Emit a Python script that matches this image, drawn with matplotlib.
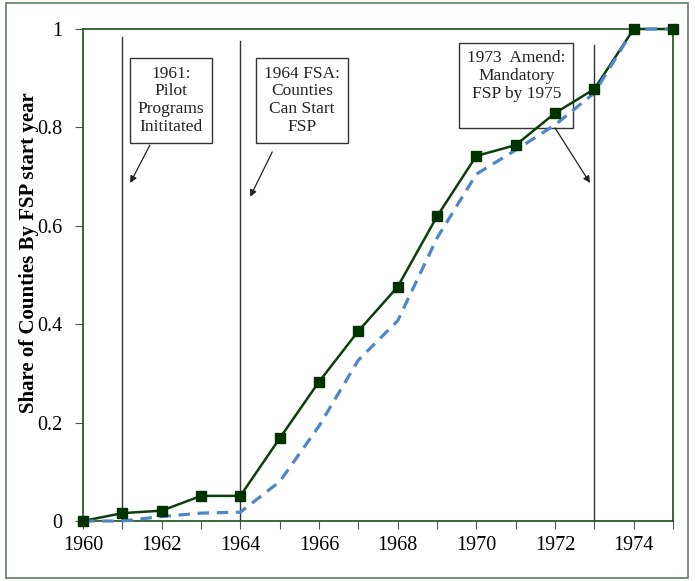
import matplotlib
matplotlib.use("Agg")
import matplotlib.pyplot as plt
from matplotlib.patches import Rectangle

plt.rcParams['font.family'] = ['Liberation Serif', 'DejaVu Serif']

years = list(range(1960, 1976))
share_start = [0.0, 0.016, 0.021, 0.051, 0.051, 0.168, 0.283, 0.386, 0.476, 0.619,
               0.742, 0.764, 0.829, 0.878, 1.0, 1.0]
share_weighted = [0.0, 0.0, 0.009, 0.016, 0.018, 0.08, 0.193, 0.327, 0.407, 0.575,
                  0.705, 0.754, 0.805, 0.870, 1.0, 1.0]
event_years = [1961, 1964, 1973]
event_tops = [0.984, 0.976, 0.967]
event_texts = ["1961:\nPilot\nPrograms\nInititated",
               "1964 FSA:\nCounties\nCan Start\nFSP",
               "1973  Amend:\nMandatory\nFSP by 1975\n"]
text_pos = [(1962.24, 0.855), (1965.57, 0.855), (1971.02, 0.886)]
arrow_from = [(1961.70, 0.764), (1964.81, 0.750), (1972.00, 0.799)]
arrow_to = [(1961.20, 0.687), (1964.25, 0.659), (1972.89, 0.687)]
xtick_labels = [str(y) if y % 2 == 0 and y < 1975 else "" for y in years]
yticks = [0, 0.2, 0.4, 0.6, 0.8, 1.0]
ytick_labels = ["0", "0.2", "0.4", "0.6", "0.8", "1"]

fig = plt.figure(figsize=(6.95, 5.81), dpi=100)
ax = fig.add_axes([83/695, 1-521/581, (673-83)/695, (521-29)/581])

green = "#0b3f0b"
blue = "#4f86c8"

for yr, top in zip(event_years, event_tops):
    ax.plot([yr, yr], [0, top], color="#333333", lw=1.0, zorder=2)

for txt, (tx, ty) in zip(event_texts, text_pos):
    ax.text(tx, ty, txt, ha="center", va="center", fontsize=12.5, linespacing=1.15,
            color="#222222",
            bbox=dict(boxstyle="square,pad=0.45", fc="white", ec="#333333", lw=1.0),
            zorder=2.5)
for (x0, y0), (x1, y1) in zip(arrow_from, arrow_to):
    ax.annotate("", xy=(x1, y1), xytext=(x0, y0),
                arrowprops=dict(arrowstyle="-|>", color="#222222", lw=0.9,
                                mutation_scale=10, shrinkA=0, shrinkB=0), zorder=2.5)

ax.plot(years, share_start, color=green, lw=1.8, zorder=3, clip_on=False)
ax.plot(years, share_weighted, color=blue, lw=2.3, linestyle=(0, (3.6, 2.4)), zorder=4,
        clip_on=False)
ax.plot(years, share_start, linestyle="none", marker="s", markersize=7.5,
        color="#003300", zorder=5, clip_on=False)

ax.set_xlim(1960, 1975)
ax.set_ylim(0, 1)
ax.set_xticks(years)
ax.set_xticklabels(xtick_labels, fontsize=14.5)
ax.set_yticks(yticks)
ax.set_yticklabels(ytick_labels, fontsize=14.5)
ax.tick_params(axis="x", direction="out", length=6, width=0.8, color="#555555", pad=5)
ax.tick_params(axis="y", direction="out", length=6, width=0.8, color="#555555", pad=9)
for s in ax.spines.values():
    s.set_color("#1f4a1f")
    s.set_linewidth(1.2)
ax.set_ylabel("Share of Counties By FSP start year", fontsize=15, fontweight="bold",
              labelpad=0)
ax.yaxis.set_label_coords(-(83-39)/590, (521-253)/492)

fig.patches.append(Rectangle((6/695, 1-578/581), (688-6)/695, (578-3)/581,
                             transform=fig.transFigure, fill=False,
                             ec="#5f7f5f", lw=1.2))

fig.savefig("out.png", dpi=100)
